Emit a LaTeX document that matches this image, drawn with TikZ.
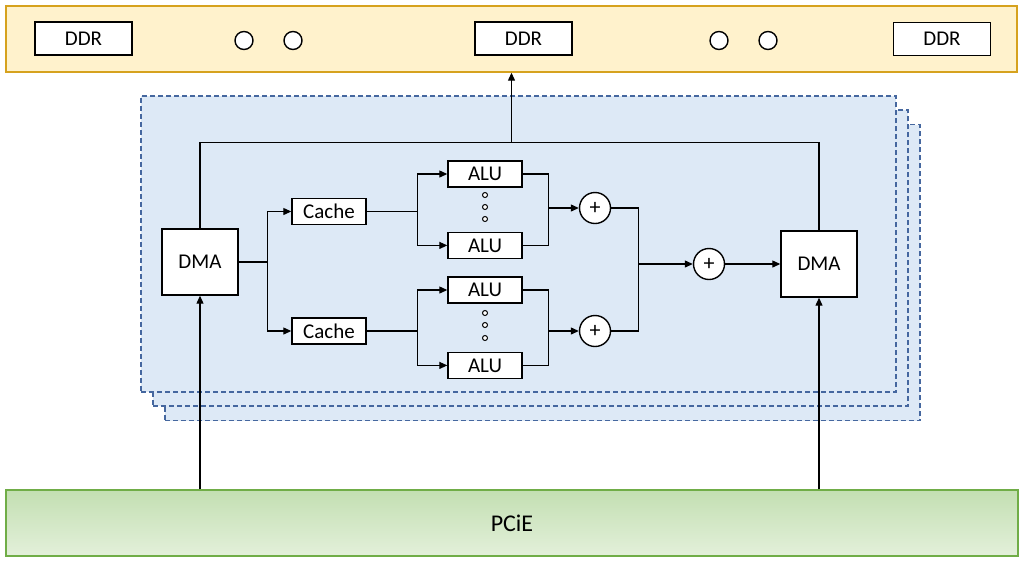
\documentclass[tikz,border=0pt]{standalone}
\usepackage{fontspec}
\setmainfont{Carlito}
\usetikzlibrary{positioning,arrows.meta}
\definecolor{ddrfill}{HTML}{FFF2CC}
\definecolor{ddrline}{HTML}{D6A21E}
\definecolor{cardfill}{HTML}{DDE9F6}
\definecolor{cardline}{HTML}{45679F}
\definecolor{pcietop}{HTML}{C3DFB2}
\definecolor{pciebot}{HTML}{E3F0DA}
\definecolor{pcieline}{HTML}{70AD47}
\tikzset{>={Triangle[length=8pt,width=7pt]}}

\begin{document}
\begin{tikzpicture}[
        x=1pt, y=-1pt,
        line width=1.2pt,
        font=\fontsize{21}{25}\selectfont,
        box/.style={
            draw,
            fill=white,
            line width=1.4pt,
            inner sep=0pt,
          },
        ddrbox/.style={box, minimum width=97pt, minimum height=33pt},
        unit/.style={box, minimum width=74pt, minimum height=26pt},
        dmabox/.style={box, minimum width=76pt, minimum height=66pt},
        adder/.style={box, circle, minimum size=31pt, font=\fontsize{22}{24}\selectfont},
        hole/.style={box, circle, minimum size=18pt},
        vdot/.style={draw, circle, fill=white, line width=1pt, minimum size=5pt, inner sep=0pt},
        card/.style={
            draw=cardline,
            fill=cardfill,
            line width=1.4pt,
            dash pattern=on 5pt off 3pt,
            minimum width=755pt,
            minimum height=296pt,
          },
        bar/.style={
            draw,
            line width=1.4pt,
            minimum width=1011pt,
            minimum height=66pt,
          },
      ]
      \useasboundingbox (0,0) rectangle (1024,563);

      % memory bar
      \node [
        bar,
        draw=ddrline,
        fill=ddrfill
      ] (ddrbar) at (511.5,39) {};
      \node [ddrbox] (ddr1) at (83.5,38.5) {DDR};
      \node [ddrbox] (ddr2) at (523.5,38.5) {DDR};
      \node [ddrbox] (ddr3) at (942,39) {DDR};
      \foreach \x [count=\i] in {244,293,719,768}
        \node [hole] (hole\i) at (\x,40.5) {};

      % stacked cards
      \node [card] (card3) at (542.5,272.5) {};
      \node [card] (card2) at (530.5,258) {};
      \node [card] (card1) at (518.5,244) {};

      \node [dmabox] (dmaL) at (200,262) {DMA};
      \node [dmabox] (dmaR) at (819,264) {DMA};
      \node [unit] (cacheA) at (329,211.5) {Cache};
      \node [unit] (cacheB) at (329,331) {Cache};
      \node [unit] (alu1) at (485,174) {ALU};
      \node [
        unit,
        below=44pt of alu1
      ] (alu2) {ALU};
      \node [unit] (alu3) at (485,290) {ALU};
      \node [
        unit,
        below=48pt of alu3
      ] (alu4) {ALU};
      \foreach \y [count=\i] in {195,207,219}
        \node [vdot] (dotA\i) at (485,\y) {};
      \foreach \y [count=\i] in {313,325,338}
        \node [vdot] (dotB\i) at (485,\y) {};
      \node [adder] (sum1) at (595,208) {+};
      \node [adder] (sum2) at (595,331) {+};
      \node [adder] (sum3) at (709,264) {+};

      % host bus
      \node [
        bar,
        draw=pcieline,
        top color=pcietop,
        bottom color=pciebot,
        minimum width=1012pt,
        font=\fontsize{24}{28}\selectfont
      ] (pcie) at (512,523) {PCiE};

      \draw[->] (dmaL.east) -- ++(29,0) |- (cacheA.west);
      \draw[->] (dmaL.east) -- ++(29,0) |- (cacheB.west);
      \draw[->] (cacheA.east) -- ++(51,0) |- (alu1.west);
      \draw[->] (cacheA.east) -- ++(51,0) |- (alu2.west);
      \draw[->] (cacheB.east) -- ++(51,0) |- (alu3.west);
      \draw[->] (cacheB.east) -- ++(51,0) |- (alu4.west);
      \draw (alu1.east) -- ++(26,0) |- (alu2.east);
      \draw (alu3.east) -- ++(26,0) |- (alu4.east);
      \draw[->] (sum1.west -| alu1.east) ++(26,0) -- (sum1.west);
      \draw[->] (sum2.west -| alu3.east) ++(26,0) -- (sum2.west);
      \draw (sum1.east) -- ++(27,0) |- (sum2.east);
      \draw[->] (sum3.west -| sum1.east) ++(27,0) -- (sum3.west);
      \draw[->] (sum3.east) -- (dmaR.west);
      \draw (dmaL.north) -- ++(0,-86) coordinate (loopL) -| (dmaR.north);
      \draw[->] (loopL -| ddrbar.south) -- (ddrbar.south);
      \draw[->] (pcie.north -| dmaL.south) -- (dmaL.south);
      \draw[->] (pcie.north -| dmaR.south) -- (dmaR.south);
    \end{tikzpicture}
\end{document}
